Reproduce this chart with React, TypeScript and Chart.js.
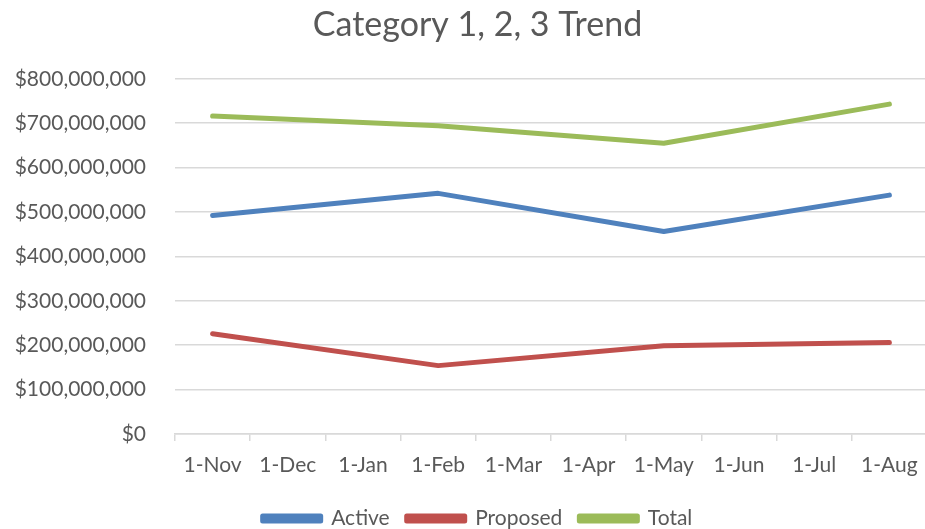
import React, { useEffect, useRef } from 'react';
import { Chart, registerables } from 'chart.js';

Chart.register(...registerables);

const categories = ['1-Nov', '1-Dec', '1-Jan', '1-Feb', '1-Mar', '1-Apr', '1-May', '1-Jun', '1-Jul', '1-Aug'];
const activeValues = [492e6, null, null, 542e6, null, null, 456e6, null, null, 538e6];
const proposedValues = [226e6, null, null, 154e6, null, null, 199e6, null, null, 206e6];
const totalValues = [716e6, null, null, 694e6, null, null, 655e6, null, null, 743e6];
const yMin = 0;
const yMax = 800e6;
const yStep = 100e6;

const FONT = 'Lato, "Open Sans", sans-serif';
const TEXT = '#595959';
const GRID = '#d9d9d9';

export default function App() {
  const ref = useRef<HTMLCanvasElement | null>(null);

  useEffect(() => {
    document.body.style.margin = '0';
    const canvas = ref.current;
    if (!canvas) return;
    const mk = (label: string, data: (number | null)[], color: string) => ({
      label,
      data,
      borderColor: color,
      backgroundColor: color,
      borderWidth: 5,
      borderCapStyle: 'round' as const,
      borderJoinStyle: 'round' as const,
      pointRadius: 0,
      pointHoverRadius: 0,
      spanGaps: true,
      tension: 0,
    });
    const chart = new Chart(canvas, {
      type: 'line',
      data: {
        labels: categories,
        datasets: [
          mk('Active', activeValues, '#4f81bd'),
          mk('Proposed', proposedValues, '#c0504d'),
          mk('Total', totalValues, '#9bbb59'),
        ],
      },
      options: {
        animation: false,
        responsive: false,
        maintainAspectRatio: false,
        layout: { padding: { left: 13, right: 13, top: 2, bottom: -10 } },
        plugins: {
          title: {
            display: true,
            text: 'Category 1, 2, 3 Trend',
            color: TEXT,
            font: { family: FONT, size: 34, weight: 'normal' },
            padding: { top: 3, bottom: 33 },
          },
          legend: {
            position: 'bottom',
            labels: {
              color: TEXT,
              font: { family: FONT, size: 21 },
              boxWidth: 58,
              boxHeight: 5,
              padding: 17,
            },
          },
          tooltip: { enabled: false },
        },
        scales: {
          x: {
            offset: true,
            grid: {
              display: true,
              drawOnChartArea: false,
              drawTicks: true,
              tickLength: 7,
              color: GRID,
              lineWidth: 1.5,
              offset: true,
            },
            border: { display: true, color: GRID, width: 1.5 },
            ticks: {
              color: TEXT,
              font: { family: FONT, size: 21 },
              padding: 12,
              maxRotation: 0,
              autoSkip: false,
            },
            afterFit: (scale: any) => {
              scale.height = 57;
            },
          },
          y: {
            min: yMin,
            max: yMax,
            grid: { color: GRID, lineWidth: 1.5, drawTicks: false },
            border: { display: false },
            ticks: {
              stepSize: yStep,
              color: TEXT,
              font: { family: FONT, size: 21 },
              padding: 29,
              callback: (v: any) => '$' + Number(v).toLocaleString('en-US'),
            },
            afterFit: (scale: any) => {
              scale.width = 162;
            },
          },
          yRight: {
            position: 'right',
            min: yMin,
            max: yMax,
            grid: { display: false, drawTicks: false },
            border: { display: false },
            ticks: { display: false },
            afterFit: (scale: any) => {
              scale.width = 15;
            },
          },
        },
      },
    });
    return () => chart.destroy();
  }, []);

  return (
    <div style={{ width: 925, height: 529, overflow: 'hidden', position: 'relative' }}>
      <canvas ref={ref} width={955} height={529} style={{ display: 'block' }} />
    </div>
  );
}
